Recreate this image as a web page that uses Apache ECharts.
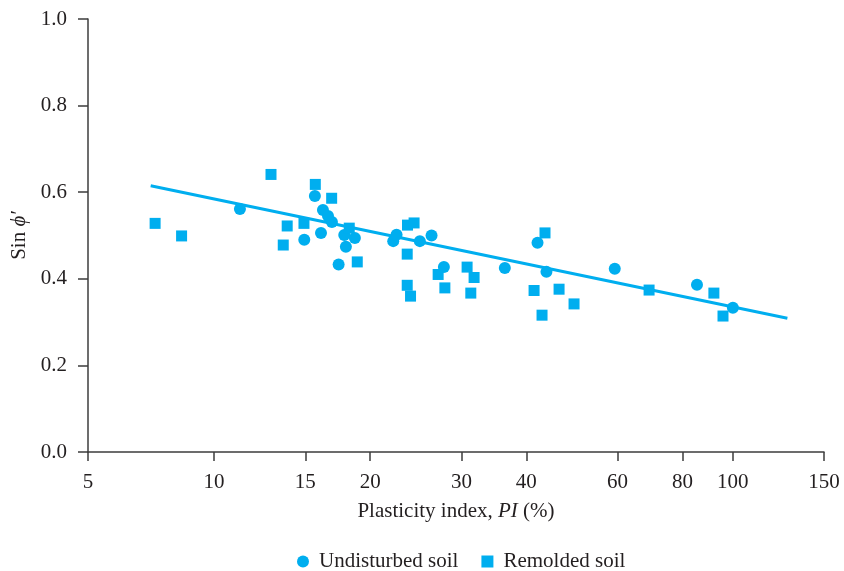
<!DOCTYPE html>
<html>
<head>
<meta charset="utf-8">
<script src="https://cdn.jsdelivr.net/npm/echarts@6/dist/echarts.min.js"></script>
<style>
html,body{margin:0;padding:0;background:#fff;}
#chart{width:844px;height:571px;}
</style>
</head>
<body>
<div id="chart"></div>
<script>
// ---- Data (PI in %, sin phi') ----
const undisturbedPI  = [11.22, 14.93, 15.65, 16.08, 16.22, 16.59, 16.88, 17.39, 17.83, 17.96, 18.69, 22.16, 22.49, 24.94, 26.27, 27.75, 36.37, 42.05, 43.75, 59.25, 85.35, 100.1];
const undisturbedSin = [0.561, 0.490, 0.591, 0.506, 0.559, 0.545, 0.531, 0.433, 0.501, 0.474, 0.494, 0.487, 0.502, 0.487, 0.500, 0.427, 0.425, 0.483, 0.416, 0.423, 0.386, 0.333];

const remoldedPI  = [7.70, 8.66, 12.88, 13.60, 13.84, 14.91, 15.68, 16.86, 18.23, 18.89, 23.61, 24.31, 23.58, 23.58, 23.93, 27.05, 27.87, 30.76, 31.73, 31.27, 41.41, 43.47, 42.90, 46.27, 49.45, 69.0, 92.0, 95.8];
const remoldedSin = [0.528, 0.499, 0.641, 0.478, 0.522, 0.528, 0.618, 0.586, 0.517, 0.439, 0.524, 0.529, 0.457, 0.385, 0.360, 0.410, 0.379, 0.427, 0.403, 0.367, 0.373, 0.506, 0.316, 0.376, 0.342, 0.374, 0.367, 0.314];

const trendPI  = [7.55, 127.5];
const trendSin = [0.615, 0.309];

const xTickLabels = ['5', '10', '15', '20', '30', '40', '60', '80', '100', '150'];
const xTickValues = [5.716, 10, 15, 20, 30, 40, 60, 80, 100, 150]; // first tick sits at the axis origin
const xAxisMin = 5.716;
const xAxisMax = 150;

// ---- Build ----
const lg = v => Math.log10(v);
const pairs = (xs, ys) => xs.map((x, i) => [lg(x), ys[i]]);
const tickPos = xTickValues.map(lg);

const color = '#00AEEF';
const axisColor = '#3c3c3c';
const textColor = '#231f20';
const font = "'Liberation Serif', 'Times New Roman', serif";

const chart = echarts.init(document.getElementById('chart'));
chart.setOption({
  animation: false,
  backgroundColor: '#fff',
  textStyle: { fontFamily: font },
  grid: { left: 88, right: 20, top: 19, bottom: 119, containLabel: false },
  legend: {
    top: 546,
    left: 292,
    itemWidth: 12,
    itemHeight: 12,
    itemGap: 23,
    textStyle: { fontFamily: font, fontSize: 21, color: textColor, padding: [0, 0, 0, 5] },
    data: [
      { name: 'Undisturbed soil', icon: 'circle' },
      { name: 'Remolded soil', icon: 'rect', itemStyle: { color: color } }
    ]
  },
  xAxis: {
    type: 'value',
    min: lg(xAxisMin),
    max: lg(xAxisMax),
    name: '{n|Plasticity index, }{i|PI}{n| (%)}',
    nameLocation: 'middle',
    nameGap: 49,
    nameTextStyle: {
      rich: {
        n: { fontFamily: font, fontSize: 21, color: textColor },
        i: { fontFamily: font, fontSize: 21, fontStyle: 'italic', color: textColor }
      }
    },
    axisLine: { show: true, lineStyle: { color: axisColor, width: 1.5 } },
    axisTick: { show: true, inside: false, length: 9, customValues: tickPos, lineStyle: { color: axisColor, width: 1.5 } },
    axisLabel: {
      customValues: tickPos,
      margin: 20,
      fontFamily: font, fontSize: 21, color: textColor,
      formatter: function (v) {
        let best = 0, bd = Infinity;
        tickPos.forEach((p, i) => { const d = Math.abs(p - v); if (d < bd) { bd = d; best = i; } });
        return xTickLabels[best];
      }
    },
    splitLine: { show: false }
  },
  yAxis: {
    type: 'value',
    min: 0,
    max: 1,
    interval: 0.2,
    name: '{n|Sin }{i|ϕ′}',
    nameLocation: 'middle',
    nameRotate: 90,
    nameGap: 53,
    nameTextStyle: {
      rich: {
        n: { fontFamily: font, fontSize: 21, color: textColor },
        i: { fontFamily: font, fontSize: 21, fontStyle: 'italic', color: textColor }
      }
    },
    axisLine: { show: true, lineStyle: { color: axisColor, width: 1.5 } },
    axisTick: { show: true, inside: false, length: 10, lineStyle: { color: axisColor, width: 1.5 } },
    axisLabel: {
      margin: 21,
      fontFamily: font, fontSize: 21, color: textColor,
      formatter: v => v.toFixed(1)
    },
    splitLine: { show: false }
  },
  series: [
    {
      name: 'Trend',
      type: 'line',
      data: pairs(trendPI, trendSin),
      showSymbol: false,
      symbol: 'none',
      lineStyle: { color: color, width: 3 },
      silent: true,
      z: 1
    },
    {
      name: 'Undisturbed soil',
      type: 'scatter',
      symbol: 'circle',
      symbolSize: 12,
      itemStyle: { color: color, opacity: 1 },
      data: pairs(undisturbedPI, undisturbedSin),
      z: 2
    },
    {
      name: 'Remolded soil',
      type: 'scatter',
      symbol: 'rect',
      symbolSize: 11,
      itemStyle: { color: color, opacity: 1 },
      data: pairs(remoldedPI, remoldedSin),
      z: 3
    }
  ]
});
</script>
</body>
</html>
